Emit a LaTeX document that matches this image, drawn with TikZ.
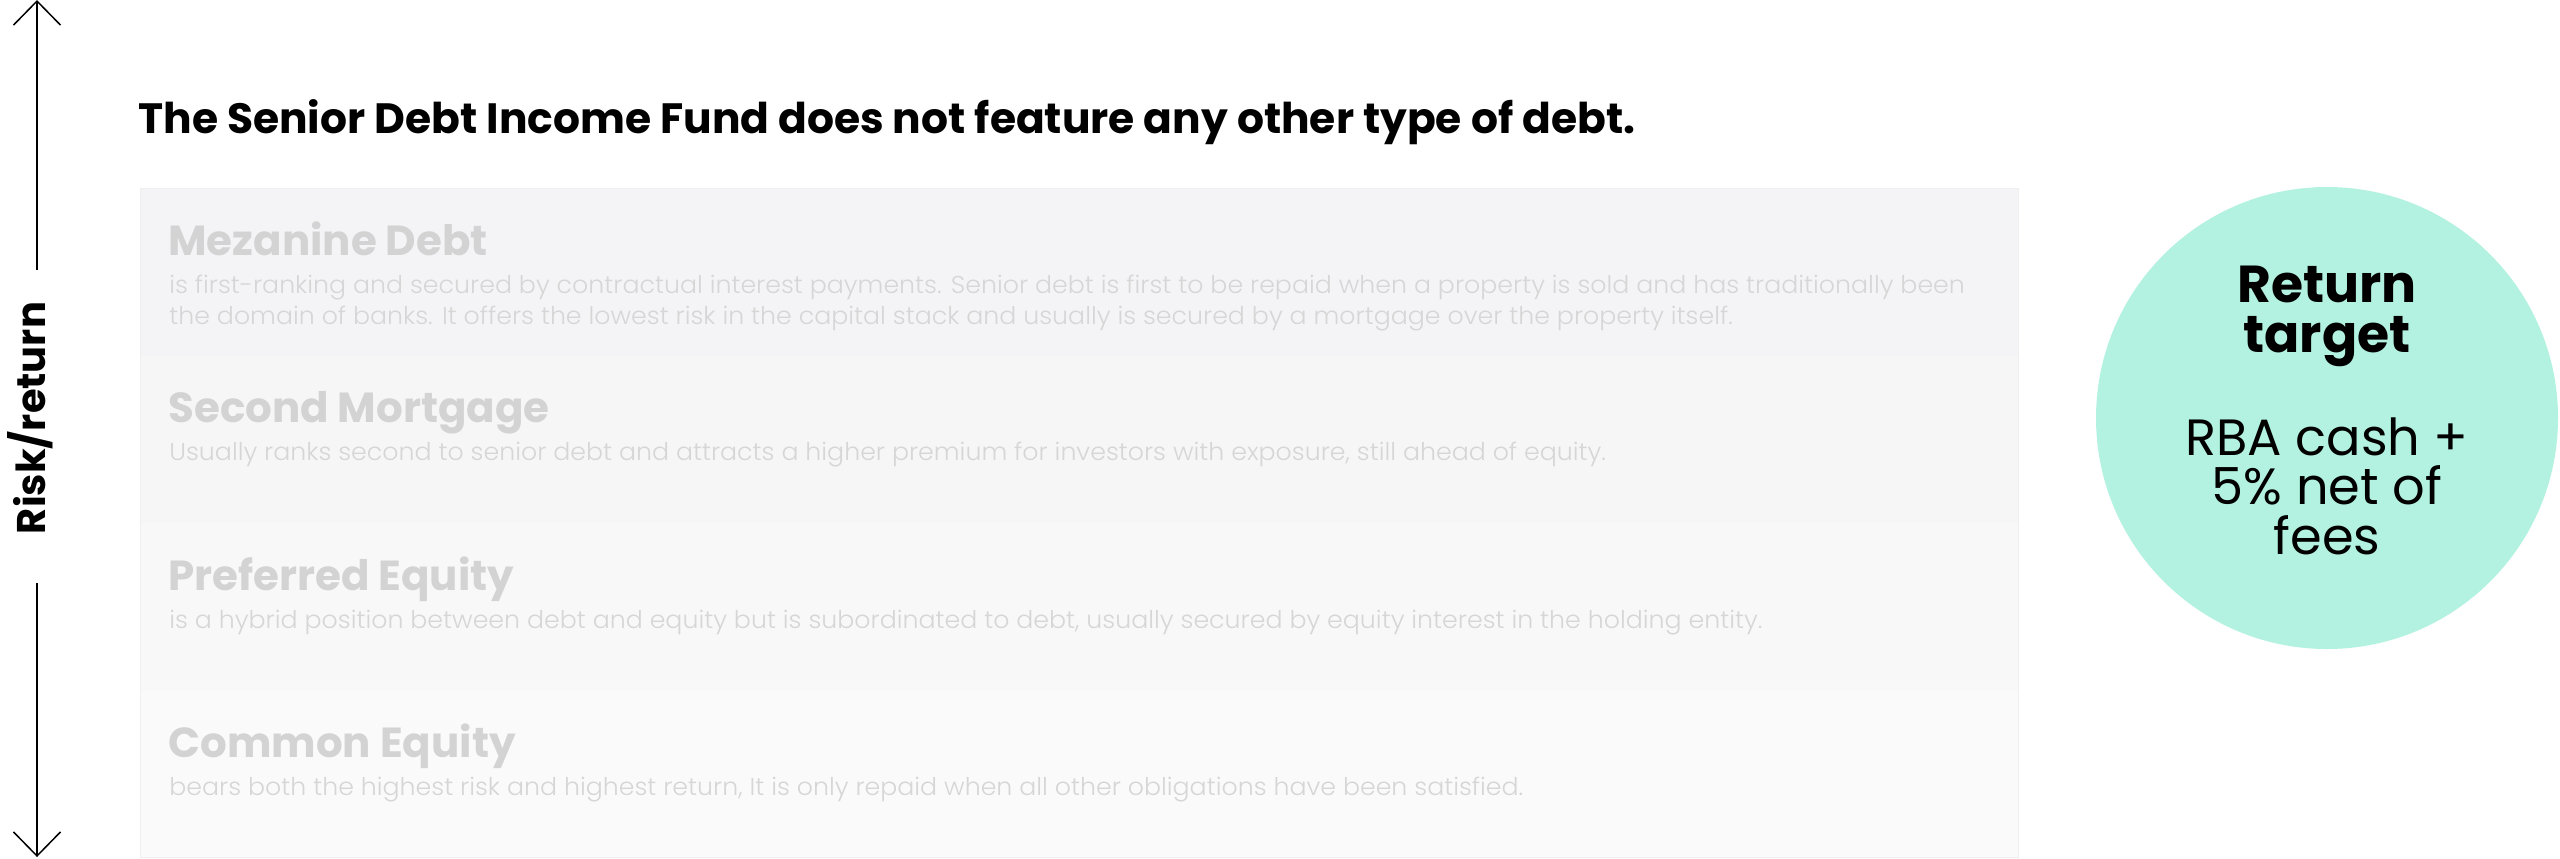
\documentclass[tikz,border=0pt]{standalone}
\usepackage{fontspec}
\setmainfont{Poppins}
\newfontfamily\lightf{Poppins Light}[FakeStretch=1.035]
\usetikzlibrary{arrows.meta}
\definecolor{mint}{HTML}{B3F2E0}
\definecolor{rowa}{HTML}{F4F4F6}
\definecolor{rowb}{HTML}{F6F6F7}
\definecolor{rowc}{HTML}{F8F8F8}
\definecolor{rowd}{HTML}{FAFAFA}
\definecolor{headc}{HTML}{D3D3D3}
\definecolor{bodyc}{HTML}{D6D6D6}
\definecolor{edgec}{HTML}{EFEFEF}
\tikzset{
  rowbox/.style={draw=edgec, line width=0.5pt},
  headtxt/.style={anchor=base west, inner sep=0pt, text=headc, font=\fontsize{21pt}{24pt}\selectfont\bfseries},
  bodytxt/.style={anchor=base west, inner sep=0pt, text=bodyc, font=\lightf\fontsize{12.2pt}{15.5pt}\selectfont},
  circtxtb/.style={anchor=base, inner sep=0pt, font=\fontsize{26pt}{27pt}\selectfont\bfseries},
  circtxt/.style={anchor=base, inner sep=0pt, font=\fontsize{25.5pt}{27pt}\selectfont},
  axisline/.style={line width=0.75pt, -{Straight Barb[length=12pt,width=23.5pt,line width=0.75pt]}},
}
\begin{document}
\begin{tikzpicture}[x=0.5pt,y=-0.5pt]
\fill[white] (0,0) rectangle (2560,858);
\useasboundingbox (0,0) rectangle (2560,858);
% rows
\fill[rowa] (140,188) rectangle (2018,355.5);
\fill[rowb] (140,355.5) rectangle (2018,523);
\fill[rowc] (140,523) rectangle (2018,690.5);
\fill[rowd] (140,690.5) rectangle (2018,857);
\draw[rowbox] (140,188) rectangle (2018,857);
% title
\node[anchor=base west, inner sep=0pt, font=\fontsize{21.2pt}{25pt}\selectfont\bfseries] (title) at (138,133) {The Senior Debt Income Fund does not feature any other type of debt.};
% headings and bodies
\node[headtxt] (h1) at (168,255) {Mezanine Debt};
\node[bodytxt] (b1a) at (169,293) {is first-ranking and secured by contractual interest payments. Senior debt is first to be repaid when a property is sold and has traditionally been};
\node[bodytxt] (b1b) at (169,324) {the domain of banks. It offers the lowest risk in the capital stack and usually is secured by a mortgage over the property itself.};
\node[headtxt] (h2) at (168,422.5) {Second Mortgage};
\node[bodytxt] (b2) at (169,460.5) {Usually ranks second to senior debt and attracts a higher premium for investors with exposure, still ahead of equity.};
\node[headtxt] (h3) at (168,590) {Preferred Equity};
\node[bodytxt] (b3) at (169,628) {is a hybrid position between debt and equity but is subordinated to debt, usually secured by equity interest in the holding entity.};
\node[headtxt] (h4) at (168,757.5) {Common Equity};
\node[bodytxt] (b4) at (169,795.5) {bears both the highest risk and highest return, It is only repaid when all other obligations have been satisfied.};
% risk axis
\node[rotate=90, anchor=base, inner sep=0pt, font=\fontsize{20pt}{22pt}\selectfont\bfseries] (risk) at (46,418) {Risk/return};
\coordinate (upend) at (37,270);
\coordinate (uptip) at (37,0);
\coordinate (dnstart) at (37,583);
\coordinate (dntip) at (37,857);
\draw[axisline] (upend) -- (uptip);
\draw[axisline] (dnstart) -- (dntip);
% circle
\node[circle, fill=mint, minimum size=231pt, inner sep=0pt] (target) at (2327,418) {};
\node[circtxtb] (ret1) at (2327,302) {Return};
\node[circtxtb] (ret2) at (2327,352) {target};
\node[circtxt] (rba1) at (2327,455) {RBA cash +};
\node[circtxt] (rba2) at (2327,504) {5\% net of};
\node[circtxt] (rba3) at (2327,554) {fees};
\end{tikzpicture}
\end{document}
